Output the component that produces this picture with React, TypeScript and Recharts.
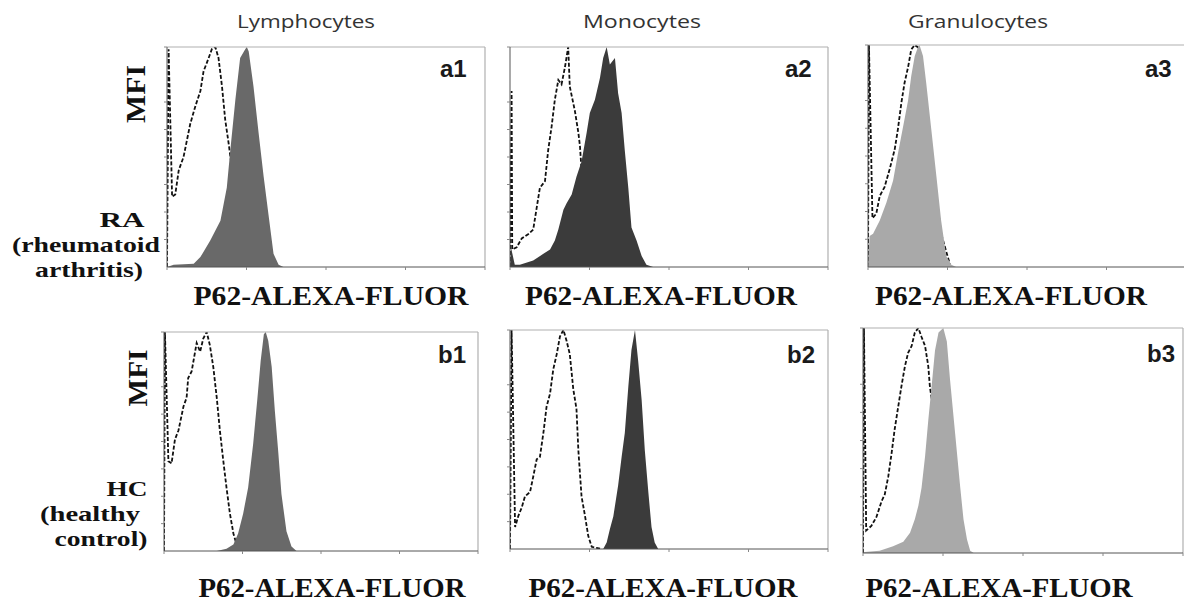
import React from 'react';
import { ComposedChart, Area, Line, XAxis, YAxis, ReferenceLine } from 'recharts';

// x: fluorescence channel (0..1000, 4 log decades), y: % of modal count
const a1FillX = [0, 21, 84, 105, 136, 168, 188, 199, 215, 230, 246, 251, 257, 272, 288, 304, 319, 335, 351, 366, 1000];
const a1FillY = [0, 1, 1.5, 4.5, 12, 21, 36, 53, 76, 95, 99, 100, 98, 82, 61, 41, 24, 6, 1, 0, 0];
const a1DashX = [0, 5, 16, 26, 37, 52, 73, 89, 105, 115, 131, 141, 152, 162, 173, 183, 194, 204, 230, 260, 290];
const a1DashY = [0, 99, 32, 33, 44, 50, 65, 73, 80, 89, 95, 99, 100, 95, 82, 67, 56, 45, 23, 6, 0];

const a2FillX = [0, 3, 15, 31, 73, 105, 126, 141, 152, 168, 178, 194, 209, 225, 241, 251, 267, 283, 293, 304, 314, 330, 340, 351, 361, 372, 382, 398, 414, 429, 450, 1000];
const a2FillY = [0, 9, 1, 1, 3, 6, 8, 12, 17, 26, 29, 33, 41, 48, 61, 70, 76, 86, 95, 100, 92, 95, 79, 70, 53, 36, 18, 12, 5, 1, 0, 0];
const a2DashX = [0, 5, 7, 21, 37, 58, 73, 84, 94, 110, 120, 131, 141, 152, 162, 173, 183, 188, 204, 215, 220, 225, 260, 300, 330];
const a2DashY = [0, 80, 8, 9, 13, 15, 17, 27, 36, 39, 53, 64, 76, 85, 83, 91, 100, 82, 71, 61, 55, 44, 20, 5, 0];

const a3FillX = [0, 5, 16, 37, 58, 79, 94, 110, 126, 136, 147, 157, 162, 173, 183, 199, 215, 230, 246, 262, 277, 1000];
const a3FillY = [0, 14, 15, 21, 29, 39, 51, 63, 75, 86, 95, 99, 100, 95, 83, 62, 41, 21, 5, 1, 0, 0];
const a3DashX = [0, 3, 14, 26, 37, 52, 68, 84, 94, 105, 115, 126, 136, 147, 157, 170, 200, 230, 260];
const a3DashY = [0, 100, 22, 24, 32, 36, 44, 53, 62, 74, 83, 90, 98, 100, 99, 85, 50, 15, 0];

const b1FillX = [0, 168, 199, 221, 236, 252, 268, 284, 297, 308, 318, 324, 332, 343, 353, 364, 374, 390, 406, 422, 1000];
const b1FillY = [0, 0, 1, 3, 8, 17, 29, 49, 69, 87, 99, 100, 96, 84, 64, 45, 26, 9, 2, 0, 0];
const b1DashX = [0, 3, 14, 24, 35, 46, 62, 72, 77, 88, 104, 115, 125, 136, 146, 157, 168, 178, 189, 199, 210, 221, 231, 242];
const b1DashY = [0, 100, 41, 40, 51, 55, 66, 70, 79, 82, 95, 91, 97, 100, 94, 84, 70, 55, 41, 29, 17, 8, 3, 0];

const b2FillX = [0, 293, 304, 314, 325, 340, 351, 361, 372, 382, 393, 403, 414, 424, 435, 445, 455, 466, 1000];
const b2FillY = [0, 0, 3, 9, 15, 29, 42, 53, 74, 91, 100, 86, 68, 45, 26, 10, 3, 0, 0];
const b2DashX = [0, 5, 16, 26, 37, 47, 63, 73, 84, 94, 105, 115, 126, 136, 147, 157, 168, 178, 188, 199, 209, 215, 225, 236, 246, 257, 272, 288];
const b2DashY = [0, 100, 10, 15, 19, 24, 26, 33, 41, 42, 53, 65, 71, 82, 89, 97, 100, 95, 89, 73, 64, 45, 24, 15, 6, 1, 0.5, 0];

const b3FillX = [0, 5, 52, 94, 126, 147, 162, 173, 183, 194, 204, 215, 225, 236, 251, 262, 272, 288, 304, 314, 325, 335, 346, 1000];
const b3FillY = [0, 0.5, 1, 3, 5, 9, 15, 21, 29, 43, 59, 75, 90, 98, 100, 94, 77, 53, 29, 15, 6, 1, 0, 0];
const b3DashX = [0, 3, 10, 26, 42, 58, 68, 79, 89, 99, 110, 120, 131, 141, 152, 162, 173, 183, 194, 204, 209, 215, 230, 260, 290, 320];
const b3DashY = [0, 100, 10, 12, 16, 23, 26, 34, 44, 55, 65, 74, 83, 89, 92, 98, 100, 96, 92, 83, 74, 68, 45, 20, 5, 0];

const cellTypes = ['Lymphocytes', 'Monocytes', 'Granulocytes'];
const panelTags = ['a1', 'a2', 'a3', 'b1', 'b2', 'b3'];
const xAxisLabel = 'P62-ALEXA-FLUOR';

const DECADES = [0, 1, 2, 3];
const MULTS = [1, 2, 3, 4, 5, 6, 7, 8, 9];
const X_TICKS = [...DECADES.flatMap((d) => MULTS.map((m) => 250 * (d + Math.log10(m)))), 1000];
const Y_TICKS = [0, 12.5, 25, 37.5, 50, 62.5, 75, 87.5, 100];

const zip = (xs: number[], ys: number[]) => xs.map((x, i) => ({ x, y: ys[i] }));

const COLORS = ['#696969', '#3b3b3b', '#a9a9a9'];

const panels = [
  { box: [167, 47, 485, 267], fill: zip(a1FillX, a1FillY), dash: zip(a1DashX, a1DashY), color: COLORS[0] },
  { box: [510, 47, 828, 267], fill: zip(a2FillX, a2FillY), dash: zip(a2DashX, a2DashY), color: COLORS[1] },
  { box: [868, 45, 1186, 267], fill: zip(a3FillX, a3FillY), dash: zip(a3DashX, a3DashY), color: COLORS[2] },
  { box: [164, 332, 478, 551], fill: zip(b1FillX, b1FillY), dash: zip(b1DashX, b1DashY), color: COLORS[0] },
  { box: [510, 330, 828, 549], fill: zip(b2FillX, b2FillY), dash: zip(b2DashX, b2DashY), color: COLORS[1] },
  { box: [863, 328, 1183, 553], fill: zip(b3FillX, b3FillY), dash: zip(b3DashX, b3DashY), color: COLORS[2] },
];

const NoLabel = () => <g />;

function Panel({ box, fill, dash, color }: any) {
  const [x0, y0, x1, y1] = box;
  const w = x1 - x0 + 10;
  const h = y1 - y0 + 8;
  return (
    <div style={{ position: 'absolute', left: x0 - 6, top: y0 - 2 }}>
      <ComposedChart width={w} height={h} margin={{ top: 2, right: 4, left: 0, bottom: 0 }}>
        <XAxis type="number" dataKey="x" domain={[0, 1000]} ticks={X_TICKS} tick={NoLabel} tickLine={{ stroke: '#888' }} tickSize={3} height={6} stroke="#555" allowDataOverflow />
        <YAxis type="number" domain={[0, 100]} ticks={Y_TICKS} tick={NoLabel} tickLine={{ stroke: '#888' }} tickSize={3} width={6} stroke="#555" allowDataOverflow />
        <ReferenceLine y={100} stroke="#b0b0b0" strokeWidth={1.2} />
        <ReferenceLine x={1000} stroke="#b0b0b0" strokeWidth={1.2} />
        <Line data={dash} dataKey="y" type="linear" stroke="#111" strokeWidth={1.8} strokeDasharray="4 2" dot={false} isAnimationActive={false} zIndex={50} />
        <Area data={fill} dataKey="y" type="linear" stroke="none" fill={color} fillOpacity={1} baseValue={0} isAnimationActive={false} zIndex={100} />
      </ComposedChart>
    </div>
  );
}

const serif = 'Liberation Serif';
const sans = 'Liberation Sans';

export default function App() {
  return (
    <div style={{ position: 'absolute', left: 0, top: 0, width: 1184, height: 603, overflow: 'hidden', background: '#fff' }}>
      {panels.map((p, i) => (
        <Panel key={i} {...p} />
      ))}
      <svg width={1184} height={603} style={{ position: 'absolute', left: 0, top: 0, pointerEvents: 'none' }}>
        <g fontFamily="Open Sans" fontSize={18} fill="#333" textAnchor="middle">
          <text x={306} y={28} textLength={138} lengthAdjust="spacingAndGlyphs">{cellTypes[0]}</text>
          <text x={642} y={28} textLength={118} lengthAdjust="spacingAndGlyphs">{cellTypes[1]}</text>
          <text x={978} y={28} textLength={140} lengthAdjust="spacingAndGlyphs">{cellTypes[2]}</text>
        </g>
        <g fontFamily={sans} fontWeight="bold" fontSize={24} fill="#1a1a1a">
          <text x={440} y={77}>{panelTags[0]}</text>
          <text x={785} y={77}>{panelTags[1]}</text>
          <text x={1145} y={77}>{panelTags[2]}</text>
          <text x={438} y={363}>{panelTags[3]}</text>
          <text x={787} y={363}>{panelTags[4]}</text>
          <text x={1147} y={362}>{panelTags[5]}</text>
        </g>
        <g fontFamily={serif} fontWeight="bold" fontSize={28} fill="#111" textAnchor="middle">
          <text x={331} y={305} textLength={275} lengthAdjust="spacingAndGlyphs">{xAxisLabel}</text>
          <text x={661} y={305} textLength={272} lengthAdjust="spacingAndGlyphs">{xAxisLabel}</text>
          <text x={1011} y={305} textLength={272} lengthAdjust="spacingAndGlyphs">{xAxisLabel}</text>
          <text x={332} y={597} textLength={267} lengthAdjust="spacingAndGlyphs">{xAxisLabel}</text>
          <text x={663} y={597} textLength={269} lengthAdjust="spacingAndGlyphs">{xAxisLabel}</text>
          <text x={999} y={597} textLength={267} lengthAdjust="spacingAndGlyphs">{xAxisLabel}</text>
        </g>
        <g fontFamily={serif} fontWeight="bold" fill="#111" textAnchor="middle">
          <text x={145} y={94} fontSize={28} transform="rotate(-90 145 94)" textLength={58} lengthAdjust="spacingAndGlyphs">MFI</text>
          <text x={147} y={378} fontSize={28} transform="rotate(-90 147 378)" textLength={57} lengthAdjust="spacingAndGlyphs">MFI</text>
          <text x={122} y={227} fontSize={22} textLength={45} lengthAdjust="spacingAndGlyphs">RA</text>
          <text x={86} y={252} fontSize={22} textLength={148} lengthAdjust="spacingAndGlyphs">(rheumatoid</text>
          <text x={89} y={277} fontSize={22} textLength={108} lengthAdjust="spacingAndGlyphs">arthritis)</text>
          <text x={127} y={496} fontSize={22} textLength={41} lengthAdjust="spacingAndGlyphs">HC</text>
          <text x={90} y={521} fontSize={22} textLength={100} lengthAdjust="spacingAndGlyphs">(healthy</text>
          <text x={101} y={546} fontSize={22} textLength={93} lengthAdjust="spacingAndGlyphs">control)</text>
        </g>
      </svg>
    </div>
  );
}
